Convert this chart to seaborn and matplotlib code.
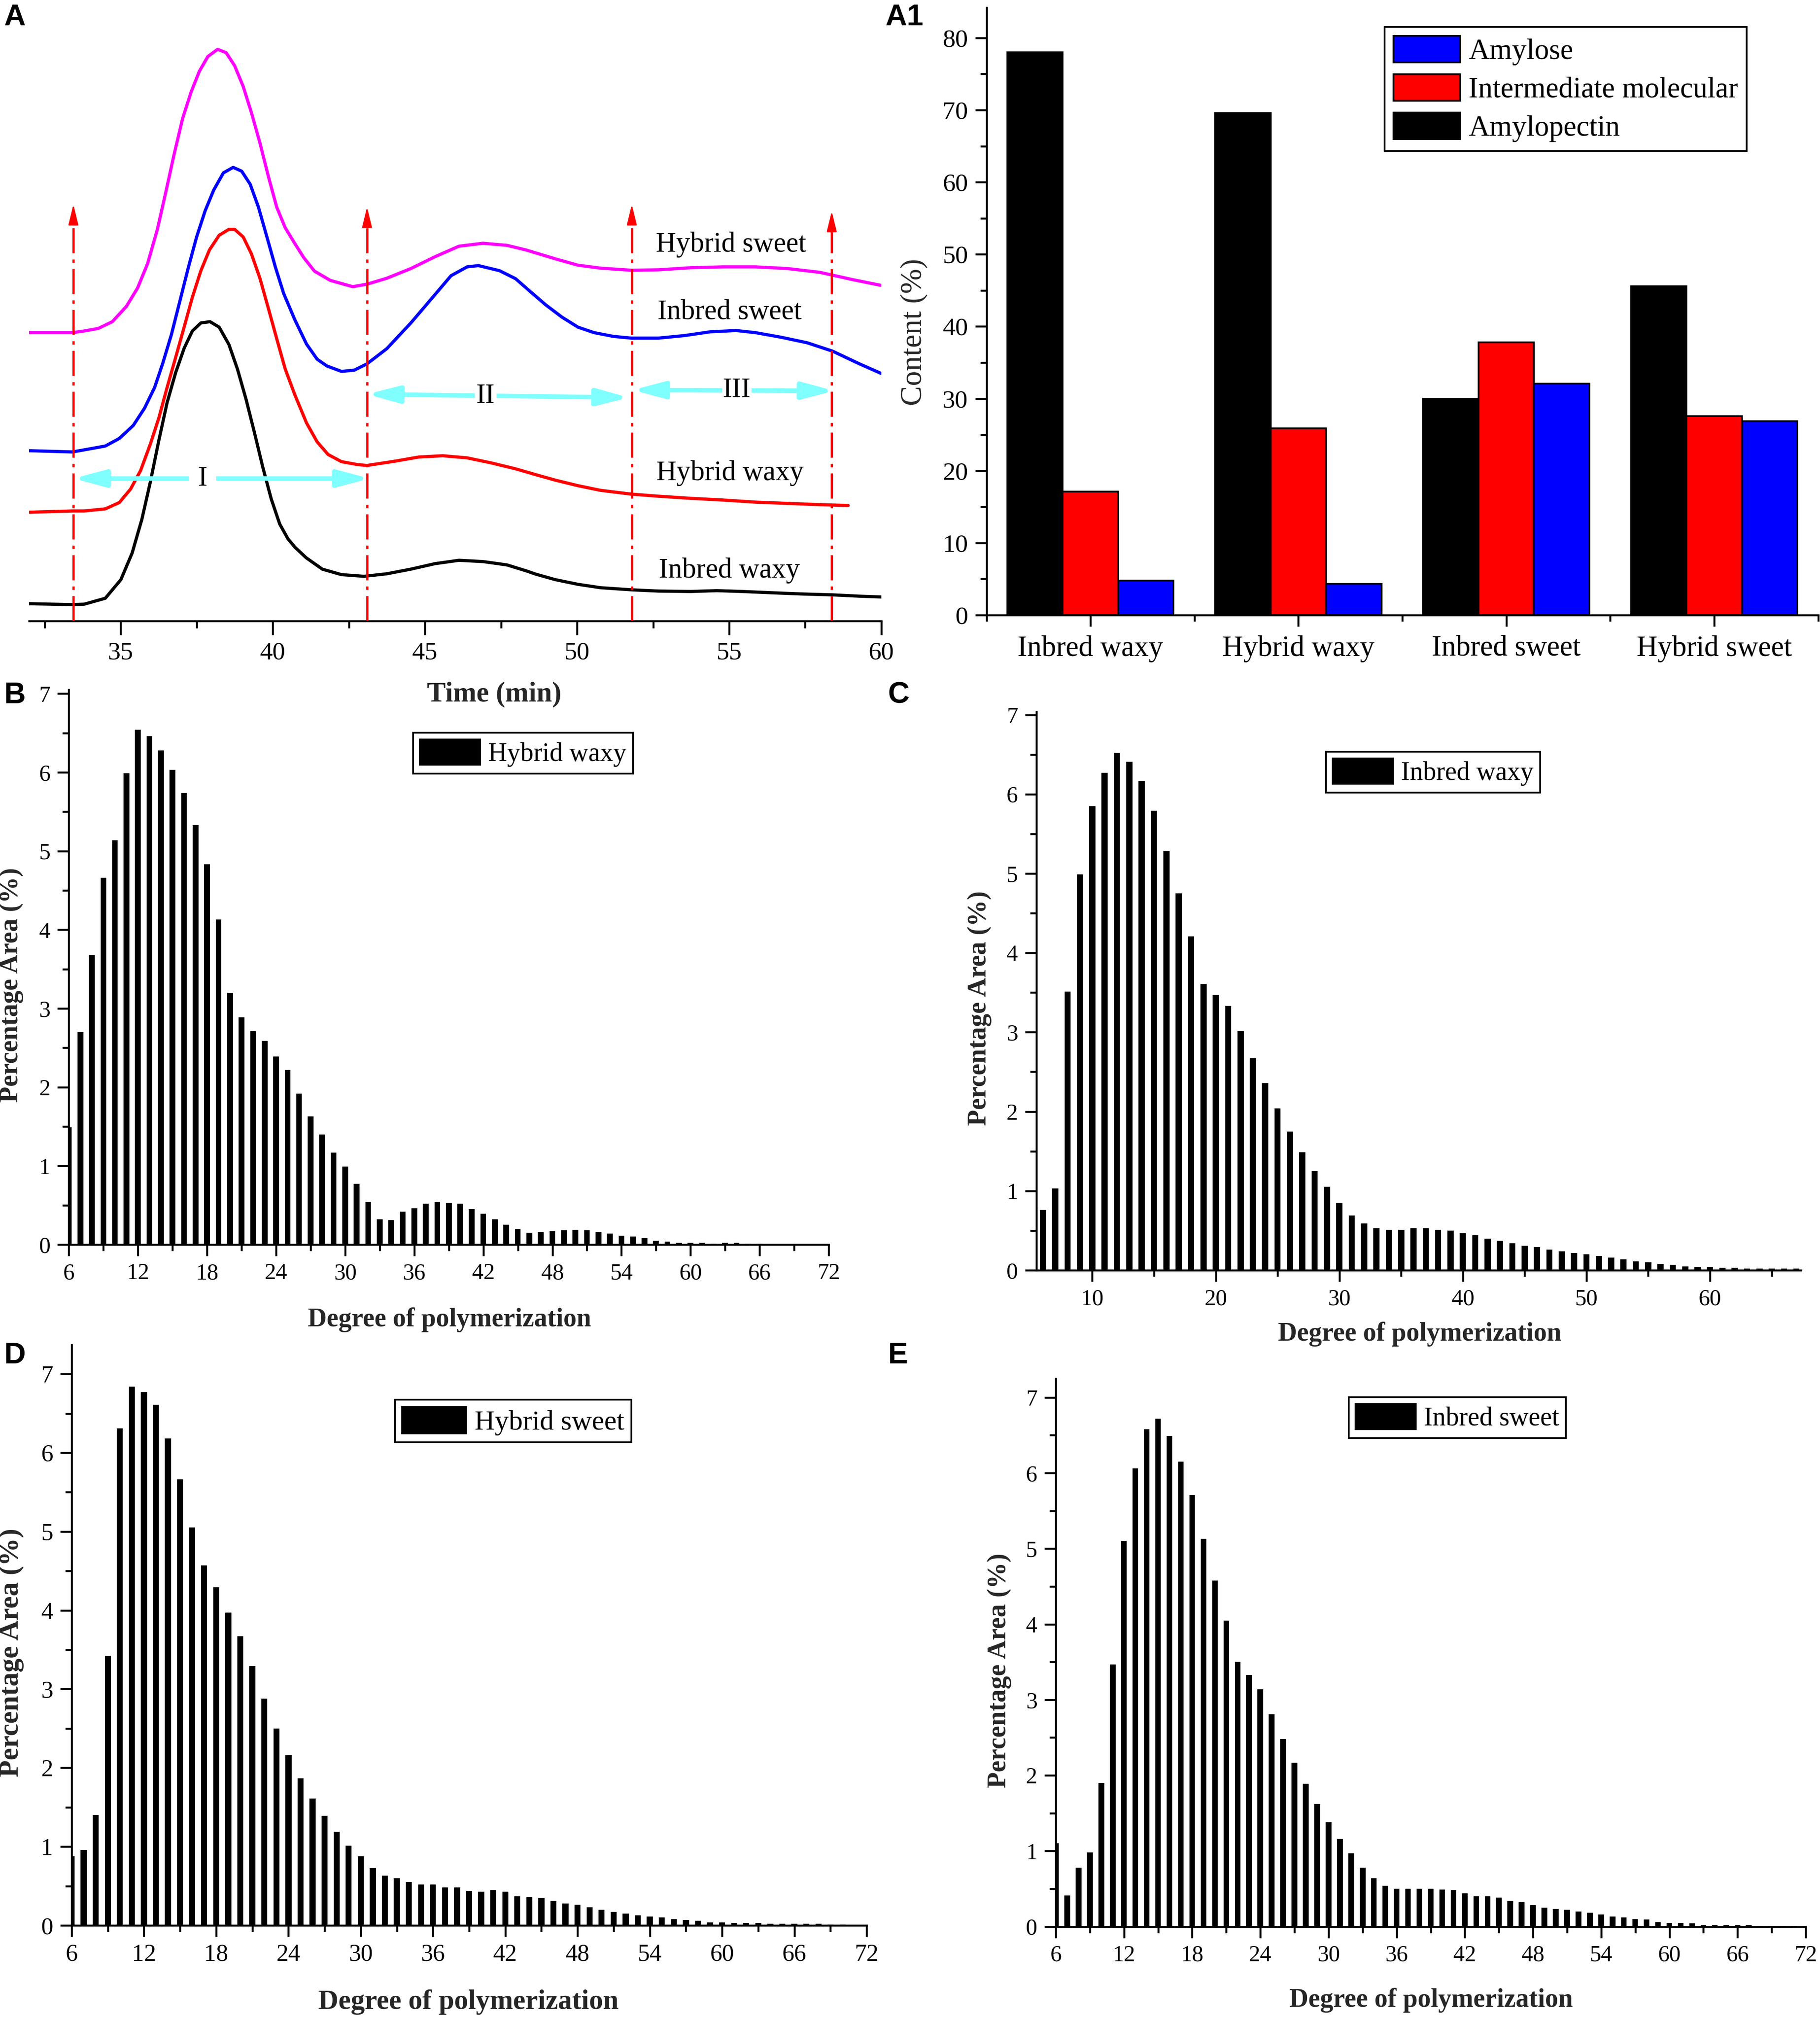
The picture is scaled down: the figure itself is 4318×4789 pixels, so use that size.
import matplotlib
matplotlib.use("Agg")
import matplotlib.pyplot as plt
import numpy as np
import pandas as pd
import seaborn as sns
from matplotlib.patches import Patch
from matplotlib.ticker import MultipleLocator, FixedLocator

# ---------------- Panel A : chromatograms ----------------
time_inbred_waxy = [31.99, 33.42, 33.81, 34.50, 35.01, 35.38, 35.70, 35.98, 36.26, 36.53, 36.81, 37.09,
                    37.36, 37.64, 37.94, 38.24, 38.56, 38.84, 39.12, 39.40, 39.67, 39.95, 40.23, 40.50,
                    40.73, 41.10, 41.63, 42.26, 43.00, 43.75, 44.54, 45.33, 46.12, 46.91, 47.70, 48.33,
                    48.65, 49.29, 50.03, 50.77, 51.78, 52.68, 53.74, 54.59, 55.44, 56.39, 57.45, 58.40,
                    59.25, 60.00]
sig_inbred_waxy = [0.41, 0.39, 0.40, 0.54, 0.98, 1.61, 2.41, 3.30, 4.29, 5.18, 5.89, 6.47,
                   6.88, 7.07, 7.10, 6.97, 6.56, 5.98, 5.27, 4.47, 3.66, 2.90, 2.30, 1.95,
                   1.75, 1.50, 1.23, 1.10, 1.06, 1.12, 1.23, 1.36, 1.44, 1.41, 1.33, 1.19,
                   1.11, 0.98, 0.87, 0.79, 0.74, 0.71, 0.70, 0.72, 0.70, 0.67, 0.64, 0.62,
                   0.59, 0.57]

time_hybrid_waxy = [31.99, 33.42, 33.81, 34.50, 34.96, 35.33, 35.66, 35.98, 36.26, 36.53, 36.81, 37.09,
                    37.36, 37.64, 37.92, 38.24, 38.56, 38.75, 39.03, 39.30, 39.58, 39.86, 40.13, 40.41,
                    40.73, 41.11, 41.46, 41.82, 42.26, 42.79, 43.10, 44.01, 44.80, 45.59, 46.39, 47.18,
                    47.98, 48.65, 49.29, 50.03, 50.77, 51.78, 52.68, 53.74, 54.80, 55.86, 56.92, 57.98,
                    58.91]
sig_hybrid_waxy = [2.58, 2.61, 2.61, 2.66, 2.81, 3.13, 3.57, 4.20, 4.82, 5.54, 6.25, 6.97,
                   7.68, 8.31, 8.80, 9.15, 9.29, 9.29, 9.11, 8.71, 8.13, 7.41, 6.70, 5.98,
                   5.36, 4.70, 4.25, 3.95, 3.78, 3.71, 3.69, 3.79, 3.89, 3.92, 3.87, 3.75,
                   3.61, 3.47, 3.34, 3.21, 3.10, 3.01, 2.96, 2.91, 2.87, 2.82, 2.79, 2.76,
                   2.74]

time_inbred_sweet = [31.99, 33.42, 33.81, 34.50, 34.96, 35.42, 35.79, 36.12, 36.39, 36.67, 36.95, 37.23,
                     37.50, 37.78, 38.06, 38.38, 38.70, 38.98, 39.26, 39.53, 39.81, 40.09, 40.36, 40.73,
                     41.11, 41.46, 41.78, 42.26, 42.68, 43.10, 43.75, 44.54, 45.33, 45.86, 46.39, 46.76,
                     47.45, 47.98, 48.44, 48.97, 49.50, 50.03, 50.56, 51.20, 51.78, 52.68, 53.53, 54.38,
                     55.23, 55.86, 56.71, 57.56, 58.40, 59.25, 60.00]
sig_inbred_sweet = [4.04, 4.01, 4.06, 4.15, 4.33, 4.64, 5.05, 5.54, 6.12, 6.79, 7.59, 8.39,
                    9.11, 9.73, 10.22, 10.63, 10.76, 10.67, 10.36, 9.82, 9.11, 8.39, 7.77, 7.14,
                    6.57, 6.21, 6.05, 5.92, 5.95, 6.10, 6.46, 7.07, 7.74, 8.19, 8.40, 8.43,
                    8.31, 8.12, 7.83, 7.50, 7.21, 6.97, 6.84, 6.75, 6.71, 6.71, 6.77, 6.86,
                    6.89, 6.84, 6.73, 6.60, 6.40, 6.11, 5.87]

time_hybrid_sweet = [31.99, 33.42, 33.81, 34.27, 34.73, 35.19, 35.56, 35.89, 36.21, 36.49, 36.76, 37.04,
                     37.32, 37.59, 37.87, 38.19, 38.47, 38.75, 39.03, 39.30, 39.58, 39.86, 40.13, 40.41,
                     40.73, 41.02, 41.37, 41.89, 42.63, 43.10, 43.75, 44.54, 45.33, 46.12, 46.91, 47.70,
                     48.33, 49.29, 50.03, 50.77, 51.78, 52.68, 53.74, 54.80, 55.86, 56.92, 57.98, 59.04,
                     60.00]
sig_hybrid_sweet = [6.84, 6.84, 6.88, 6.94, 7.10, 7.46, 7.90, 8.48, 9.29, 10.18, 11.07, 11.92,
                    12.55, 13.04, 13.39, 13.56, 13.48, 13.17, 12.68, 12.06, 11.34, 10.54, 9.82, 9.33,
                    8.95, 8.62, 8.30, 8.08, 7.93, 7.99, 8.13, 8.36, 8.64, 8.89, 8.96, 8.91,
                    8.80, 8.59, 8.44, 8.37, 8.32, 8.33, 8.38, 8.40, 8.40, 8.36, 8.27, 8.10,
                    7.96]

curve_names = ["Hybrid sweet", "Inbred sweet", "Hybrid waxy", "Inbred waxy"]
curve_label_t = [55.06, 55.01, 55.03, 55.01]
curve_label_s = [8.93, 7.32, 3.51, 1.20]

boundary_times = [33.45, 43.10, 51.80, 58.37]
boundary_tops = [9.88, 9.82, 9.88, 9.72]

region_labels = ["I", "II", "III"]
region_start_t = [33.45, 43.10, 51.83]
region_end_t = [43.18, 51.70, 58.45]
region_start_s = [3.38, 5.38, 5.48]
region_end_s = [3.38, 5.30, 5.46]
region_label_t = [37.70, 46.99, 55.25]
region_label_s = [3.38, 5.34, 5.47]

# ---------------- Panel A1 : fractions ----------------
groups = ["Inbred waxy", "Hybrid waxy", "Inbred sweet", "Hybrid sweet"]
amylopectin = [78.0, 69.6, 30.0, 45.6]
intermediate = [17.1, 25.9, 37.8, 27.6]
amylose = [4.77, 4.35, 32.1, 26.9]

# ---------------- Panels B-E : chain length distributions ----------------
dp_B = list(range(6, 67))
hybrid_waxy_pct = [1.49, 2.70, 3.68, 4.66, 5.14, 5.99, 6.54, 6.46, 6.28, 6.03, 5.74, 5.33, 4.83, 4.13, 3.20,
                   2.89, 2.71, 2.59, 2.39, 2.22, 1.92, 1.63, 1.40, 1.17, 0.99, 0.77, 0.54, 0.32, 0.31, 0.42,
                   0.46, 0.52, 0.54, 0.53, 0.52, 0.45, 0.39, 0.32, 0.25, 0.20, 0.15, 0.16, 0.17, 0.18, 0.19,
                   0.18, 0.16, 0.14, 0.11, 0.10, 0.08, 0.05, 0.04, 0.02, 0.02, 0.02, 0.01, 0.02, 0.02, 0.01, 0.01]
dp_C = list(range(6, 68))
inbred_waxy_pct = [0.76, 1.03, 3.51, 4.99, 5.85, 6.27, 6.52, 6.41, 6.17, 5.79, 5.28, 4.75, 4.21, 3.61, 3.47,
                   3.33, 3.01, 2.67, 2.36, 2.04, 1.75, 1.49, 1.25, 1.05, 0.85, 0.69, 0.59, 0.53, 0.51, 0.51,
                   0.53, 0.53, 0.51, 0.50, 0.47, 0.44, 0.40, 0.37, 0.34, 0.31, 0.29, 0.26, 0.24, 0.22, 0.20,
                   0.18, 0.16, 0.14, 0.11, 0.10, 0.08, 0.07, 0.05, 0.04, 0.04, 0.03, 0.03, 0.02, 0.02, 0.02,
                   0.02, 0.02]
dp_D = list(range(6, 71))
hybrid_sweet_pct = [0.88, 0.96, 1.40, 3.42, 6.31, 6.84, 6.77, 6.61, 6.18, 5.66, 5.05, 4.57, 4.29, 3.97, 3.67,
                    3.29, 2.88, 2.50, 2.16, 1.87, 1.61, 1.39, 1.19, 1.01, 0.88, 0.73, 0.63, 0.60, 0.55, 0.52,
                    0.52, 0.48, 0.48, 0.44, 0.43, 0.45, 0.43, 0.37, 0.36, 0.35, 0.31, 0.28, 0.26, 0.23, 0.20,
                    0.17, 0.15, 0.13, 0.11, 0.10, 0.08, 0.07, 0.06, 0.04, 0.04, 0.03, 0.03, 0.03, 0.02, 0.02,
                    0.02, 0.02, 0.02, 0.01, 0.01]
dp_E = list(range(6, 72))
inbred_sweet_pct = [1.10, 0.41, 0.78, 0.98, 1.90, 3.47, 5.10, 6.06, 6.58, 6.72, 6.49, 6.15, 5.71, 5.13, 4.58,
                    4.05, 3.50, 3.33, 3.14, 2.81, 2.48, 2.17, 1.89, 1.62, 1.38, 1.16, 0.97, 0.78, 0.64, 0.54,
                    0.50, 0.50, 0.50, 0.50, 0.49, 0.48, 0.44, 0.40, 0.40, 0.38, 0.34, 0.32, 0.28, 0.25, 0.23,
                    0.22, 0.20, 0.18, 0.16, 0.13, 0.12, 0.10, 0.09, 0.06, 0.05, 0.05, 0.04, 0.02, 0.02, 0.02,
                    0.02, 0.02, 0.01, 0.01, 0.01, 0.01]

# ---------------- styling ----------------
W, H = 4318, 4789
DPI = 300
sns.set_style("ticks")
plt.rcParams['font.family'] = ['Liberation Serif', 'DejaVu Serif']
plt.rcParams['axes.linewidth'] = 1.1
plt.rcParams['axes.edgecolor'] = 'black'
plt.rcParams['xtick.color'] = 'black'
plt.rcParams['ytick.color'] = 'black'
plt.rcParams['text.color'] = 'black'
plt.rcParams['lines.solid_joinstyle'] = 'round'
plt.rcParams['lines.solid_capstyle'] = 'round'

fig = plt.figure(figsize=(W / DPI, H / DPI), dpi=DPI)
fig.patch.set_facecolor('white')


def rect(left, right, top, bottom):
    return [left / W, 1 - bottom / H, (right - left) / W, (bottom - top) / H]


def new_axes(px):
    ax = fig.add_axes(rect(*px))
    ax.patch.set_visible(False)
    return ax


def style_ticks(ax, labelsize):
    ax.tick_params(which='major', direction='out', length=6.5, width=1.1, labelsize=labelsize, pad=4)
    ax.tick_params(which='minor', direction='out', length=3.5, width=1.1)


def place_xlabel(ax, px, cx, cy):
    left, right, top, bottom = px
    ax.xaxis.set_label_coords((cx - left) / (right - left), (bottom - cy) / (bottom - top))
    ax.xaxis.label.set_va('center')


def place_ylabel(ax, px, cx, cy):
    left, right, top, bottom = px
    ax.yaxis.set_label_coords((cx - left) / (right - left), (bottom - cy) / (bottom - top))
    ax.yaxis.label.set_va('center')


# ---------------- Panel A ----------------
pxA = (69.4, 2091, 20, 1473)
axA = new_axes(pxA)
curves = [(time_hybrid_sweet, sig_hybrid_sweet, '#FF00FF'),
          (time_inbred_sweet, sig_inbred_sweet, '#0000FF'),
          (time_hybrid_waxy, sig_hybrid_waxy, '#FF0000'),
          (time_inbred_waxy, sig_inbred_waxy, '#000000')]
for t, s, c in curves:
    sns.lineplot(x=t, y=s, color=c, linewidth=1.8, ax=axA, errorbar=None)

for tb, top in zip(boundary_times, boundary_tops):
    axA.plot([tb, tb], [0, top - 0.42], color='#FF0000', lw=1.3,
             ls=(0, (11, 2.7, 1.5, 2.7)), zorder=3)
    axA.annotate('', xy=(tb, top), xytext=(tb, top - 0.42),
                 arrowprops=dict(arrowstyle='-|>,head_length=0.9,head_width=0.22',
                                 mutation_scale=11, color='#FF0000', lw=0.8,
                                 shrinkA=0, shrinkB=0), zorder=3)

label_pads = [5.0, 1.0, 0.5]
for lab, t0, t1, s0, s1, lt, ls_, pad in zip(region_labels, region_start_t, region_end_t,
                                              region_start_s, region_end_s, region_label_t,
                                              region_label_s, label_pads):
    axA.annotate('', xy=(t1, s1), xytext=(t0, s0),
                 arrowprops=dict(arrowstyle='<|-|>,head_length=1.5,head_width=0.4',
                                 mutation_scale=10, color='#80FFFF', lw=2.6,
                                 shrinkA=0, shrinkB=0), zorder=4)
    axA.text(lt, ls_, lab, ha='center', va='center', fontsize=16, zorder=5,
             bbox=dict(facecolor='white', edgecolor='none', pad=pad))

for name, lt, ls_ in zip(curve_names, curve_label_t, curve_label_s):
    axA.text(lt, ls_, name, ha='center', va='center', fontsize=16)

axA.set_xlim(32, 60)
axA.set_ylim(0, 14.53)
axA.xaxis.set_major_locator(MultipleLocator(5))
axA.xaxis.set_minor_locator(MultipleLocator(2.5))
axA.set_yticks([])
for sp in ['left', 'right', 'top']:
    axA.spines[sp].set_visible(False)
style_ticks(axA, 14.5)
axA.tick_params(axis='x', which='major', length=8)
axA.tick_params(axis='x', which='minor', length=4)
axA.set_xlabel('Time (min)', fontsize=16, fontweight='bold')
axA.set_ylabel('')
place_xlabel(axA, pxA, 1172, 1647)

# ---------------- Panel A1 ----------------
pxA1 = (2340.5, 4313.6, 18, 1459)
axA1 = new_axes(pxA1)
components = ['Amylopectin', 'Intermediate molecular', 'Amylose']
comp_colors = ['#000000', '#FF0000', '#0000FF']
dfA1 = pd.DataFrame({
    'group': groups * 3,
    'component': sum([[c] * len(groups) for c in components], []),
    'value': amylopectin + intermediate + amylose,
})
sns.barplot(data=dfA1, x='group', y='value', hue='component', hue_order=components,
            palette=comp_colors, saturation=1, width=0.8, edgecolor='black', linewidth=1.0,
            errorbar=None, legend=False, ax=axA1)
axA1.set_xlim(-0.5, 3.5)
axA1.set_ylim(0, 84.2)
axA1.yaxis.set_major_locator(MultipleLocator(10))
axA1.yaxis.set_minor_locator(MultipleLocator(5))
axA1.xaxis.set_minor_locator(FixedLocator([-0.5, 0.5, 1.5, 2.5, 3.5]))
sns.despine(ax=axA1)
style_ticks(axA1, 14.5)
axA1.tick_params(axis='x', which='major', labelsize=16.5, pad=5)
axA1.set_xlabel('')
axA1.set_ylabel('Content (%)', fontsize=17)
place_ylabel(axA1, pxA1, 2168, 788)
leg_handles = [Patch(facecolor=c, edgecolor='black', linewidth=1.0) for c in comp_colors[::-1]]
legA1 = axA1.legend(handles=leg_handles, labels=components[::-1], loc='upper left',
                    bbox_to_anchor=(3285 / W, 1 - 64 / H), bbox_transform=fig.transFigure,
                    fontsize=16.5, frameon=True, fancybox=False, framealpha=1, edgecolor='black',
                    borderpad=0.3, handlelength=2.3, handleheight=1.05, labelspacing=0.3,
                    handletextpad=0.3, borderaxespad=0)
legA1.get_frame().set_linewidth(1.0)


# ---------------- Panels B-E ----------------
def dp_panel(px, dp, vals, name, xlim, ytop, major, minor, legend_px, ylab_px, xlab_px, fs=1.0):
    ax = new_axes(px)
    sns.barplot(x=dp, y=vals, native_scale=True, width=0.5, color='black', saturation=1,
                linewidth=0, errorbar=None, ax=ax)
    ax.set_xlim(*xlim)
    ax.set_ylim(0, ytop)
    ax.xaxis.set_major_locator(MultipleLocator(major))
    ax.xaxis.set_minor_locator(MultipleLocator(minor))
    ax.yaxis.set_major_locator(MultipleLocator(1))
    ax.yaxis.set_minor_locator(MultipleLocator(0.5))
    sns.despine(ax=ax)
    style_ticks(ax, 13 * fs)
    ax.set_xlabel('Degree of polymerization', fontsize=15 * fs, fontweight='bold')
    ax.set_ylabel('Percentage Area (%)', fontsize=15 * fs, fontweight='bold')
    place_xlabel(ax, px, *xlab_px)
    place_ylabel(ax, px, *ylab_px)
    leg = ax.legend(handles=[Patch(facecolor='black', edgecolor='black')], labels=[name],
                    loc='upper left', bbox_to_anchor=(legend_px[0] / W, 1 - legend_px[1] / H),
                    bbox_transform=fig.transFigure, fontsize=15 * fs, frameon=True, fancybox=False,
                    framealpha=1, edgecolor='black', borderpad=0.25, handlelength=2.3,
                    handleheight=1.1, handletextpad=0.3, borderaxespad=0)
    leg.get_frame().set_linewidth(1.0)
    return ax


dp_panel((163.4, 1966, 1636, 2952), dp_B, hybrid_waxy_pct, 'Hybrid waxy', (6, 72), 7.05, 6, 3,
         (980, 1738), (27, 2337), (1066, 3131))
dp_panel((2459, 4273, 1688, 3013), dp_C, inbred_waxy_pct, 'Inbred waxy', (5.48, 67.37), 7.04, 10, 5,
         (3146, 1783), (2324, 2392), (3368, 3164))
dp_panel((170, 2056, 3190, 4567), dp_D, hybrid_sweet_pct, 'Hybrid sweet', (6, 72), 7.37, 6, 3,
         (937, 3320), (27, 3920), (1111, 4749), fs=1.06)
dp_panel((2505, 4284, 3270, 4569.5), dp_E, inbred_sweet_pct, 'Inbred sweet', (6, 72), 7.25, 6, 3,
         (3200, 3314), (2371, 3963), (3395, 4744))

# ---------------- panel letters ----------------
letters = ['A', 'A1', 'B', 'C', 'D', 'E']
letter_px = [(9, 9), (2100, 9), (9, 1617), (2106, 1617), (9, 3183), (2106, 3183)]
for L, (lx, ly) in zip(letters, letter_px):
    fig.text(lx / W, 1 - ly / H, L, ha='left', va='top', fontsize=17, fontweight='bold',
             family=['Liberation Sans', 'DejaVu Sans'])

fig.savefig('out.png', dpi=DPI, facecolor='white')
